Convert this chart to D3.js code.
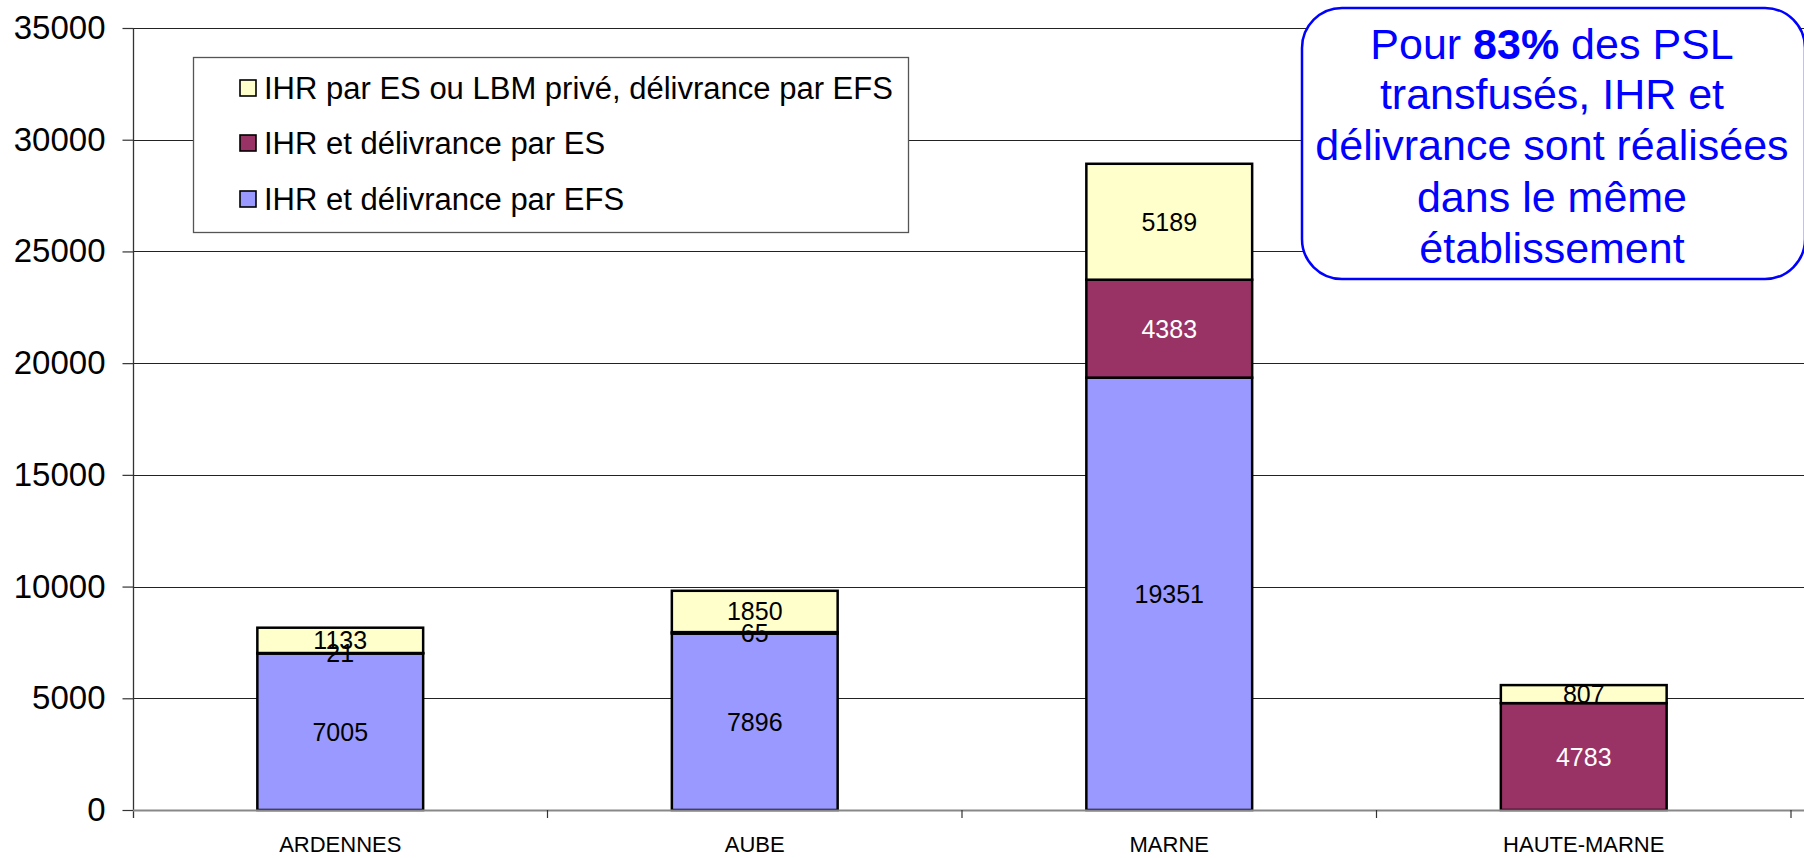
<!DOCTYPE html>
<html><head><meta charset="utf-8">
<script src="https://cdn.jsdelivr.net/npm/d3@7"></script>
<style>
html,body{margin:0;padding:0;background:#fff;}
svg{display:block;font-family:"Liberation Sans",Arial,sans-serif;}
</style></head>
<body>
<svg id="chart" width="1804" height="858"></svg>
<script>
const categories = ["ARDENNES", "AUBE", "MARNE", "HAUTE-MARNE"];
const seriesNames = ["IHR et délivrance par EFS", "IHR et délivrance par ES", "IHR par ES ou LBM privé, délivrance par EFS"];
const valuesEFS = [7005, 7896, 19351, 0];
const valuesES = [21, 65, 4383, 4783];
const valuesPrive = [1133, 1850, 5189, 807];
const yTicks = [0, 5000, 10000, 15000, 20000, 25000, 30000, 35000];
const seriesColors = ["#9999FF", "#993366", "#FFFFCC"];
const calloutLines = [
  [["Pour ", false], ["83%", true], [" des PSL", false]],
  [["transfusés, IHR et", false]],
  [["délivrance sont réalisées", false]],
  [["dans le même", false]],
  [["établissement", false]]
];

const svg = d3.select("#chart");
const x = d3.scaleBand().domain(categories).range([133, 1791]).paddingInner(0.6).paddingOuter(0.3);
const y = d3.scaleLinear().domain([0, 35000]).range([810, 28]);

// gridlines
svg.append("g").selectAll("line").data(yTicks.filter(d => d > 0)).join("line")
  .attr("x1", 133).attr("x2", 1804)
  .attr("y1", d => Math.round(y(d)) + 0.5).attr("y2", d => Math.round(y(d)) + 0.5)
  .attr("stroke", "#222").attr("stroke-width", 1.2);

// y axis
const yAxis = d3.axisLeft(y).tickValues(yTicks).tickSize(11).tickPadding(17).tickFormat(d3.format("d"));
const gy = svg.append("g").attr("transform", "translate(133.5,0)").call(yAxis);
gy.select(".domain").attr("stroke", "#333").attr("stroke-width", 1.3).attr("d", "M0,28V818");
gy.selectAll(".tick line").attr("stroke", "#333").attr("stroke-width", 1.2);
gy.selectAll(".tick text").attr("font-size", 33).attr("fill", "#000").attr("font-family", "Liberation Sans, Arial, sans-serif");

// stacked data
const rows = categories.map((c, i) => ({cat: c, efs: valuesEFS[i], es: valuesES[i], prive: valuesPrive[i]}));
const stack = d3.stack().keys(["efs", "es", "prive"])(rows);

const gb = svg.append("g");
stack.forEach((layer, si) => {
  gb.append("g").selectAll("rect").data(layer.filter(d => d[1] - d[0] > 0)).join("rect")
    .attr("x", d => x(d.data.cat))
    .attr("width", x.bandwidth())
    .attr("y", d => y(d[1]))
    .attr("height", d => y(d[0]) - y(d[1]))
    .attr("fill", seriesColors[si])
    .attr("stroke", "#000").attr("stroke-width", 2.5);
});

// x axis baseline + ticks
svg.append("line").attr("x1", 133).attr("x2", 1804).attr("y1", 810.5).attr("y2", 810.5)
  .attr("stroke", "#888").attr("stroke-width", 2);
const bounds = categories.map((c, i) => x(c) - x.step() * x.paddingInner() / 2 + x.step());
svg.append("g").selectAll("line").data(bounds).join("line")
  .attr("x1", d => d).attr("x2", d => d).attr("y1", 810).attr("y2", 818)
  .attr("stroke", "#333").attr("stroke-width", 1.2);
svg.append("g").selectAll("text").data(categories).join("text")
  .attr("x", d => x(d) + x.bandwidth() / 2).attr("y", 852)
  .attr("text-anchor", "middle").attr("font-size", 22).attr("fill", "#000")
  .text(d => d);

// data labels
stack.forEach((layer, si) => {
  svg.append("g").selectAll("text").data(layer.filter(d => d[1] - d[0] > 0)).join("text")
    .attr("x", d => x(d.data.cat) + x.bandwidth() / 2)
    .attr("y", d => y((d[0] + d[1]) / 2))
    .attr("dy", "0.36em")
    .attr("text-anchor", "middle").attr("font-size", 25)
    .attr("fill", d => (si === 1 && d[1] - d[0] > 500) ? "#fff" : "#000")
    .text(d => d[1] - d[0]);
});

// legend
const lg = svg.append("g");
lg.append("rect").attr("x", 193.5).attr("y", 57.5).attr("width", 715).attr("height", 175)
  .attr("fill", "#fff").attr("stroke", "#555").attr("stroke-width", 1.3);
const legendOrder = [2, 1, 0];
const legendY = [88, 143, 199];
legendOrder.forEach((si, k) => {
  lg.append("rect").attr("x", 240).attr("y", legendY[k] - 8).attr("width", 16).attr("height", 16)
    .attr("fill", seriesColors[si]).attr("stroke", "#000").attr("stroke-width", 1.6);
  lg.append("text").attr("x", 264).attr("y", legendY[k]).attr("dy", "0.36em")
    .attr("font-size", 31).attr("fill", "#000").text(seriesNames[si]);
});

// callout
const cg = svg.append("g");
cg.append("rect").attr("x", 1302).attr("y", 8).attr("width", 503).attr("height", 271).attr("rx", 40)
  .attr("fill", "#fff").attr("stroke", "#0000FF").attr("stroke-width", 2.5);
const lineY = [59, 109, 160, 212, 263];
calloutLines.forEach((parts, i) => {
  const t = cg.append("text").attr("x", 1552).attr("y", lineY[i]).attr("text-anchor", "middle")
    .attr("font-size", 43).attr("fill", "#0000FF");
  parts.forEach(p => t.append("tspan").attr("font-weight", p[1] ? "bold" : "normal").text(p[0]));
});
</script>
</body></html>
